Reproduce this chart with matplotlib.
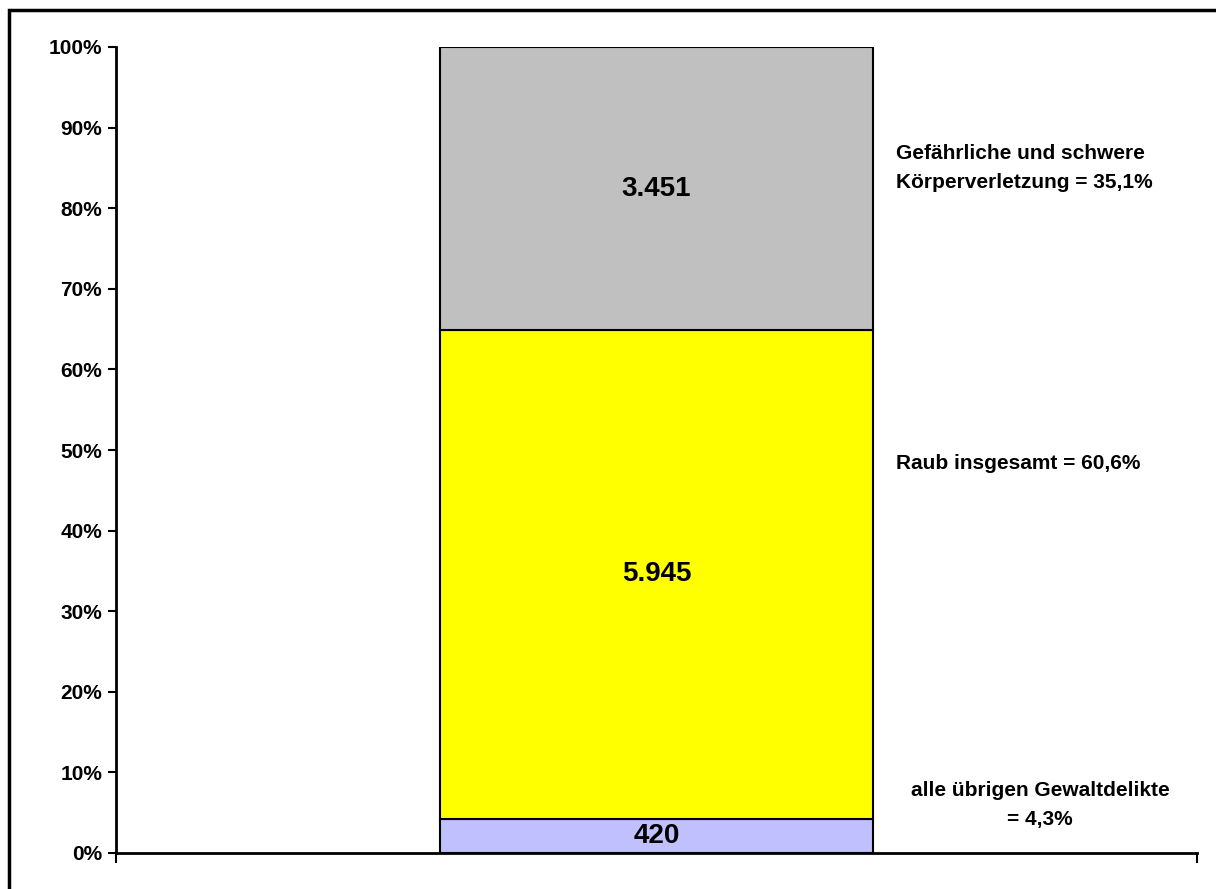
import numpy as np
import matplotlib.pyplot as plt
from matplotlib.patches import Rectangle
from matplotlib.ticker import PercentFormatter

plt.rcParams['font.family'] = ['Liberation Sans', 'DejaVu Sans']
plt.rcParams['font.weight'] = 'bold'

# Fallzahlen (von unten nach oben)
categories = ['alle übrigen Gewaltdelikte', 'Raub insgesamt',
              'Gefährliche und schwere Körperverletzung']
counts = [420, 5945, 3451]
count_labels = ['420', '5.945', '3.451']
colors = ['#C0C0FF', '#FFFF00', '#C0C0C0']
side_labels = ['alle übrigen Gewaltdelikte\n= 4,3%',
               'Raub insgesamt = 60,6%',
               'Gefährliche und schwere\nKörperverletzung = 35,1%']

shares = np.array(counts) / sum(counts) * 100
bottoms = np.concatenate([[0], np.cumsum(shares)[:-1]])

fig = plt.figure(figsize=(12.16, 8.89), dpi=100)
ax = fig.add_axes([116/1216, 36/889, 1081/1216, 806/889])

for s, b, c, lab in zip(shares, bottoms, colors, count_labels):
    ax.bar(0, s, width=0.4, bottom=b, color=c, edgecolor='black', linewidth=1.5)
    ax.text(0, b + s/2, lab, ha='center', va='center', fontsize=20, fontweight='bold')

# Beschriftungen rechts
ax.text(0.355, 6.0, side_labels[0], ha='center', va='center', fontsize=15,
        fontweight='bold', linespacing=1.65)
ax.text(0.222, 48.3, side_labels[1], ha='left', va='center', fontsize=15,
        fontweight='bold')
ax.text(0.222, 85.0, side_labels[2], ha='left', va='center', fontsize=15,
        fontweight='bold', linespacing=1.65)

ax.set_xlim(-0.5, 0.5)
ax.set_ylim(0, 100)
ax.set_yticks(np.arange(0, 101, 10))
ax.yaxis.set_major_formatter(PercentFormatter(decimals=0))
ax.set_xticks([-0.5, 0.5])
ax.set_xticklabels([])
ax.tick_params(axis='y', direction='out', length=6, width=1.5, labelsize=15, pad=4)
ax.tick_params(axis='x', direction='out', length=7, width=1.5)
for t in ax.get_yticklabels():
    t.set_fontweight('bold')
for sp in ['top', 'right']:
    ax.spines[sp].set_visible(False)
for sp in ['left', 'bottom']:
    ax.spines[sp].set_linewidth(2)

# Rahmen um das Diagramm (rechts und unten abgeschnitten)
fig.patches.append(Rectangle((9/1216, -0.05), 1.2, (889-10)/889 + 0.05,
                             transform=fig.transFigure, fill=False,
                             edgecolor='black', linewidth=2.5))

fig.savefig('out.png', dpi=100)
